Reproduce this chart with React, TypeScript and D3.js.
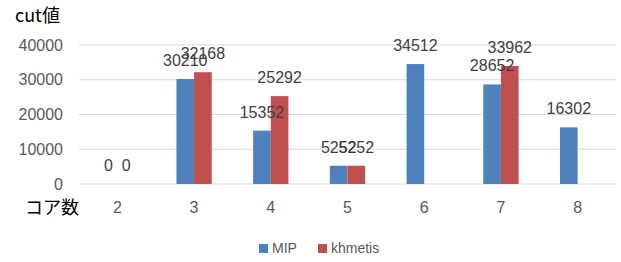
import * as d3 from "d3";

const categories = ["2", "3", "4", "5", "6", "7", "8"];
const mipValues: (number | null)[] = [0, 30210, 15352, 5252, 34512, 28652, 16302];
const khmetisValues: (number | null)[] = [0, 32168, 25292, 5252, null, 33962, null];
const seriesNames = ["MIP", "khmetis"];
const yTicks = [0, 10000, 20000, 30000, 40000];

const colors: Record<string, string> = { MIP: "#4F81BD", khmetis: "#C0504D" };
const font = "'Liberation Sans', Arial, sans-serif";
const cjk = "'Noto Sans CJK JP', sans-serif";

export default function App() {
  const width = 621;
  const height = 262;

  const x0 = d3
    .scaleBand<string>()
    .domain(categories)
    .range([79, 616])
    .paddingInner(0.54)
    .paddingOuter(0.27);
  const x1 = d3.scaleBand<string>().domain(seriesNames).range([0, x0.bandwidth()]);
  const y = d3.scaleLinear().domain([0, 40000]).range([184, 45]);

  const series = [
    { name: "MIP", values: mipValues },
    { name: "khmetis", values: khmetisValues },
  ];

  // flatten to points, skipping missing values
  const points = series.flatMap((s) =>
    s.values
      .map((v, i) => ({ name: s.name, cat: categories[i], v }))
      .filter((p) => p.v !== null)
  ) as { name: string; cat: string; v: number }[];

  const bx = (p: { name: string; cat: string }) => (x0(p.cat) ?? 0) + (x1(p.name) ?? 0);
  const bw = x1.bandwidth();

  return (
    <svg
      width={width}
      height={height}
      style={{ position: "absolute", left: 0, top: 0, background: "#fff" }}
    >
      <text x={15} y={22} fontFamily={cjk} fontSize={18} fill="#000">
        cut値
      </text>

      {yTicks.map((t) => (
        <g key={t}>
          <line x1={79} x2={616} y1={y(t)} y2={y(t)} stroke="#D9D9D9" strokeWidth={1} />
          <text
            x={63}
            y={y(t)}
            dy="0.35em"
            textAnchor="end"
            fontFamily={font}
            fontSize={16}
            fill="#595959"
          >
            {t}
          </text>
        </g>
      ))}

      {points.map((p) => (
        <rect
          key={"b" + p.name + p.cat}
          x={bx(p)}
          y={y(p.v)}
          width={bw}
          height={y(0) - y(p.v)}
          fill={colors[p.name]}
        />
      ))}

      {points.map((p) => (
        <text
          key={"l" + p.name + p.cat}
          x={bx(p) + bw / 2}
          y={y(p.v) - 13}
          textAnchor="middle"
          fontFamily={font}
          fontSize={16}
          fill="#404040"
        >
          {p.v}
        </text>
      ))}

      <text x={25} y={214} fontFamily={cjk} fontSize={18} fill="#000">
        コア数
      </text>
      {categories.map((c) => (
        <text
          key={c}
          x={(x0(c) ?? 0) + x0.bandwidth() / 2}
          y={213}
          textAnchor="middle"
          fontFamily={font}
          fontSize={16}
          fill="#595959"
        >
          {c}
        </text>
      ))}

      {seriesNames.map((n, i) => {
        const lx = i === 0 ? 259 : 318;
        return (
          <g key={n}>
            <rect x={lx} y={244} width={9} height={9} fill={colors[n]} />
            <text x={lx + 13} y={253} fontFamily={font} fontSize={14} fill="#595959">
              {n}
            </text>
          </g>
        );
      })}
    </svg>
  );
}
